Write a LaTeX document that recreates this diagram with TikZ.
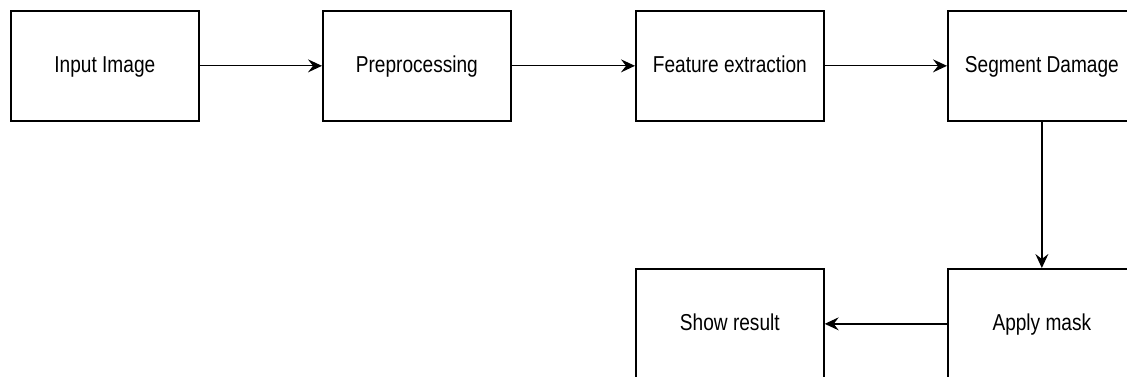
\documentclass[tikz,border=0pt]{standalone}
\usepackage{fontspec}
\setmainfont[FakeStretch=0.83]{Liberation Sans}
\usetikzlibrary{arrows.meta}
\begin{document}
\begin{tikzpicture}[x=1pt,y=-1pt,
  stepbox/.style={draw=black,line width=1.7pt,minimum width=188pt,minimum height=110pt,inner sep=0pt,text height=17pt,text depth=3pt,anchor=north west,font=\fontsize{23}{28}\selectfont},
  conn/.style={draw=black,line width=1.3pt,-{Stealth[length=14pt,width=13pt,inset=5pt]}}]
\useasboundingbox (0,0) rectangle (1127,377);
\clip (0,0) rectangle (1127,377);
\node[stepbox] (in) at (10,10) {Input Image};
\node[stepbox] (pre) at (322,10) {Preprocessing};
\node[stepbox] (feat) at (635,10) {Feature extraction};
\node[stepbox] (seg) at (947,10) {Segment Damage};
\node[stepbox] (mask) at (947,268) {Apply mask};
\node[stepbox] (show) at (635,268) {Show result};
\draw[conn] (in.east) -- (pre.west);
\draw[conn] (pre.east) -- (feat.west);
\draw[conn] (feat.east) -- (seg.west);
\draw[conn] (seg.south) -- (mask.north);
\draw[conn] (mask.west) -- (show.east);
\end{tikzpicture}
\end{document}
